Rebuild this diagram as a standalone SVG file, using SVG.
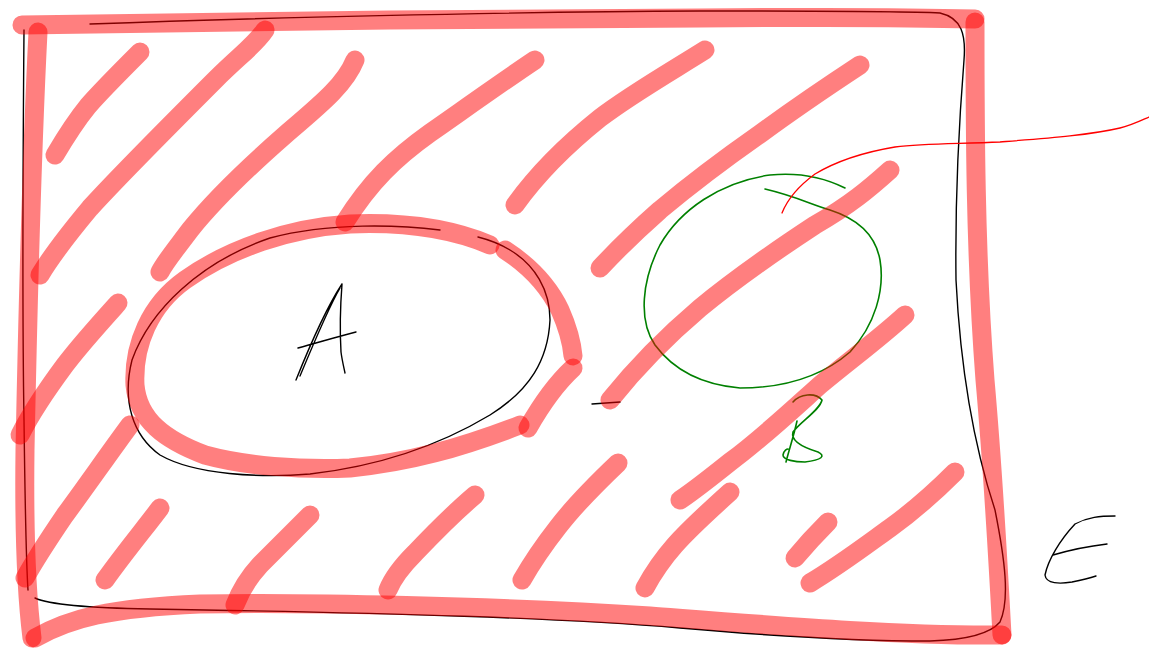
<svg xmlns="http://www.w3.org/2000/svg" width="1149" height="651" viewBox="0 0 1149 651">
<style>
.k{fill:none;stroke:#000;stroke-width:1.4;stroke-linecap:round;stroke-linejoin:round}
.g{fill:none;stroke:#008000;stroke-width:1.6;stroke-linecap:round;stroke-linejoin:round}
.r{fill:none;stroke:#ff0000;stroke-opacity:0.5;stroke-width:19;stroke-linecap:round;stroke-linejoin:round}
.t{fill:none;stroke:#ff0000;stroke-width:1.3;stroke-linecap:round}
</style>
<rect width="1149" height="651" fill="#fff"/>
<g id="frame-black">
<path class="k" d="M90,24 C250,18 500,12 700,11 C820,11 900,11 940,13 C962,18 966,35 964,60 C960,110 955,200 956,280 C960,360 972,440 995,510 C1005,560 1010,600 1000,622 C990,634 965,640 930,641 C860,641 760,635 680,628 C560,618 400,613 150,609 C90,608 50,605 35,598"/>
<path class="k" d="M24,30 C23,150 22,300 24,420 C25,500 26,560 28,590"/>
</g>
<g id="set-A">
<path class="k" d="M440,230 C400,225 330,222 270,238 C200,262 150,310 132,360 C122,400 132,435 160,455 C195,475 260,478 310,474 C380,466 440,445 490,415 C530,390 548,360 550,320 C550,290 535,265 510,250 C500,244 490,240 478,237"/>
<path class="k" d="M296,380 C310,345 325,310 342,284 M300,376 C315,340 330,305 340,288 M342,284 C340,310 340,335 341,352 C342,360 344,368 345,373 M298,348 C320,342 340,336 356,332"/>
</g>
<g id="set-B">
<path class="g" d="M845,188 C825,178 800,172 770,175 C720,182 680,210 660,245 C642,280 638,320 655,345 C675,372 705,385 740,388 C780,388 820,378 850,352 C875,325 885,290 880,260 C875,232 855,218 830,210 C810,204 795,196 765,189"/>
<path class="g" d="M797,421 C794,435 789,450 786,462 M793,402 C800,394 815,392 822,400 C820,410 800,422 793,432 C790,442 805,448 818,452 C826,456 822,460 805,462 C795,462 783,460 783,455 C784,450 787,449 788,449"/>
</g>
<g id="label-E">
<path class="k" d="M1115,516 C1100,516 1088,517 1075,524 C1060,540 1048,560 1045,575 C1046,584 1060,584 1072,582 C1082,580 1090,578 1096,576 M1053,555 C1070,550 1090,546 1107,544"/>
</g>
<g id="connectors">
<path class="t" d="M782,213 C788,198 800,185 815,174 C835,162 865,152 895,147 C925,143 960,144 1000,142 C1050,138 1090,135 1120,128 C1132,125 1140,121 1149,117"/>
<path class="k" d="M592,404 L620,402"/>
</g>
<g id="hatch">
<path class="r" d="M22,25 C200,22 500,18 700,18 C820,17 900,17 975,19"/>
<path class="r" d="M975,22 C975,120 975,250 985,380 C993,470 998,560 1002,635"/>
<path class="r" d="M1002,635 C900,636 780,626 650,616 C500,606 300,602 200,604 C110,608 70,618 35,638"/>
<path class="r" d="M38,32 C32,150 28,300 25,450 C24,530 26,590 32,638"/>
<path class="r" d="M140,52 C120,72 100,92 88,106 C75,122 65,138 55,155"/>
<path class="r" d="M265,30 C255,45 240,55 215,80 C170,125 120,175 90,208 C70,232 52,255 40,275"/>
<path class="r" d="M355,60 C345,85 320,105 285,135 C245,170 210,205 190,230 C175,250 165,262 160,272"/>
<path class="r" d="M535,60 C505,80 470,105 430,133 C395,158 370,182 345,222"/>
<path class="r" d="M705,50 C670,72 630,95 600,118 C570,142 540,170 515,205"/>
<path class="r" d="M860,65 C825,88 790,112 760,134 C720,162 690,185 660,210 C635,232 615,252 600,268"/>
<path class="r" d="M890,170 C870,188 850,205 815,225 C780,248 740,275 700,308 C660,342 630,375 610,400"/>
<path class="r" d="M905,315 C880,338 850,360 820,385 C790,412 760,440 730,462 C710,478 695,490 680,500"/>
<path class="r" d="M118,303 C100,323 80,345 65,365 C45,392 30,415 20,435"/>
<path class="r" d="M130,425 C110,452 85,488 65,515 C48,540 35,560 25,578"/>
<path class="r" d="M490,245 C450,228 400,222 350,224 C290,228 230,248 185,280 C150,305 133,345 135,385 C138,420 165,440 205,455 C245,466 300,470 350,468 C410,462 460,448 520,425"/>
<path class="r" d="M505,250 C528,265 548,285 560,310 C568,328 572,345 573,356"/>
<path class="r" d="M573,368 C560,380 545,398 528,428"/>
<path class="r" d="M160,508 C145,528 125,552 105,580"/>
<path class="r" d="M310,515 C295,530 275,550 260,565 C248,578 240,592 235,605"/>
<path class="r" d="M475,495 C455,512 435,532 415,553 C400,568 392,580 388,590"/>
<path class="r" d="M618,463 C598,482 575,505 558,527 C540,550 530,566 522,580"/>
<path class="r" d="M730,492 C710,510 690,528 675,545 C660,562 652,575 645,588"/>
<path class="r" d="M828,522 C815,535 805,546 795,558"/>
<path class="r" d="M955,472 C935,492 915,510 890,528 C865,546 840,565 810,583"/>
</g>
</svg>
